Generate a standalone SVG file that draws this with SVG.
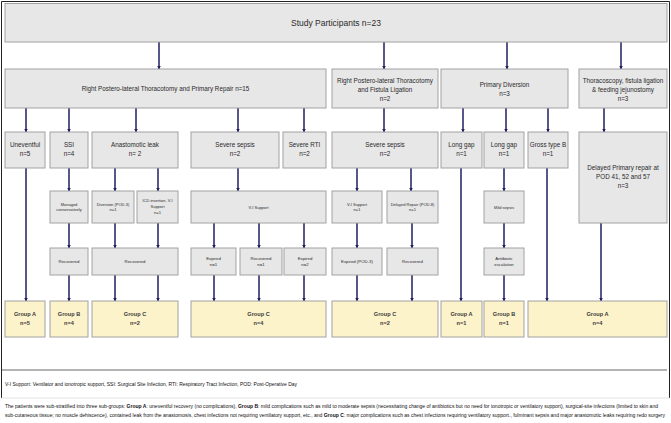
<svg xmlns="http://www.w3.org/2000/svg" width="671" height="423" viewBox="0 0 671 423">
<defs>
<marker id="ah" markerWidth="4" markerHeight="4" refX="3.5" refY="2" orient="auto" markerUnits="userSpaceOnUse">
<path d="M0,0 L4,2 L0,4 Z" fill="#1f1f62"/>
</marker>
<style>
.b{fill:#e7e7e7;stroke:#a2a2a2;stroke-width:1}
.g{fill:#fdf3cb;stroke:#a2a2a2;stroke-width:1}
.c line{stroke:#1f1f62;stroke-width:1.5;marker-end:url(#ah)}
text{font-family:"Liberation Sans",Arial,sans-serif;fill:#2a2a2a;text-anchor:middle}
.t1{font-size:8.5px}
.t2{font-size:6.3px}
.t4{font-size:4px}
.t5{font-size:4.3px}
.tg{font-size:5.6px;font-weight:bold;fill:#3a3a3a}
.fn{font-size:4.6px;text-anchor:start;fill:#111}
</style>
</defs>
<rect x="0" y="0" width="671" height="423" fill="#ffffff"/>
<path d="M1.5,398 V1.5 H669.5 V398" fill="none" stroke="#222" stroke-width="1"/>
<line x1="1.5" y1="398" x2="669.5" y2="398" stroke="#e2e2e2" stroke-width="1"/>
<line x1="2" y1="370" x2="667" y2="370" stroke="#9a9a9a" stroke-width="1.5"/>

<g class="c" id="connectors">
<line x1="159" y1="42" x2="159" y2="69"/>
<line x1="384" y1="42" x2="384" y2="69"/>
<line x1="507" y1="42" x2="507" y2="69"/>
<line x1="621" y1="42" x2="621" y2="69"/>

<line x1="26" y1="108" x2="26" y2="132"/>
<line x1="69" y1="108" x2="69" y2="132"/>
<line x1="136" y1="108" x2="136" y2="132"/>
<line x1="238" y1="108" x2="238" y2="132"/>
<line x1="304" y1="108" x2="304" y2="132"/>
<line x1="384" y1="108" x2="384" y2="132"/>
<line x1="463" y1="108" x2="463" y2="132"/>
<line x1="506" y1="108" x2="506" y2="132"/>
<line x1="548" y1="108" x2="548" y2="132"/>
<line x1="604" y1="108" x2="604" y2="132"/>

<line x1="26" y1="168" x2="26" y2="301"/>
<line x1="69" y1="168" x2="69" y2="191"/>
<line x1="115" y1="168" x2="115" y2="191"/>
<line x1="158" y1="168" x2="158" y2="191"/>
<line x1="238" y1="168" x2="238" y2="191"/>
<line x1="357" y1="168" x2="357" y2="191"/>
<line x1="411" y1="168" x2="411" y2="191"/>
<line x1="461" y1="168" x2="461" y2="301"/>
<line x1="504" y1="168" x2="504" y2="191"/>
<line x1="547" y1="168" x2="547" y2="301"/>
<line x1="601" y1="223" x2="601" y2="301"/>

<line x1="69" y1="223" x2="69" y2="248"/>
<line x1="115" y1="223" x2="115" y2="248"/>
<line x1="158" y1="223" x2="158" y2="248"/>
<line x1="214" y1="223" x2="214" y2="248"/>
<line x1="259" y1="223" x2="259" y2="248"/>
<line x1="304" y1="223" x2="304" y2="248"/>
<line x1="357" y1="223" x2="357" y2="248"/>
<line x1="412" y1="223" x2="412" y2="248"/>
<line x1="504" y1="223" x2="504" y2="248"/>

<line x1="69" y1="275" x2="69" y2="301"/>
<line x1="115" y1="275" x2="115" y2="301"/>
<line x1="158" y1="275" x2="158" y2="301"/>
<line x1="214" y1="275" x2="214" y2="301"/>
<line x1="259" y1="275" x2="259" y2="301"/>
<line x1="304" y1="275" x2="304" y2="301"/>
<line x1="357" y1="275" x2="357" y2="301"/>
<line x1="412" y1="275" x2="412" y2="301"/>
<line x1="504" y1="275" x2="504" y2="301"/>
</g>

<g id="participants"><rect class="b" x="5" y="3.5" width="662" height="38.5"/><text class="t1" x="336" y="26">Study Participants n=23</text></g>

<g id="primary-repair"><rect class="b" x="5" y="69" width="321" height="39"/><text class="t2" x="165.5" y="91">Right Postero-lateral Thoracotomy and Primary Repair n=15</text></g>
<g id="fistula-ligation"><rect class="b" x="332" y="69" width="106" height="39"/><text class="t2" x="385" y="83">Right Postero-lateral Thoracotomy</text><text class="t2" x="385" y="91.5">and Fistula Ligation</text><text class="t2" x="385" y="100.5">n=2</text></g>
<g id="primary-diversion"><rect class="b" x="441" y="69" width="127" height="39"/><text class="t2" x="504.5" y="87">Primary Diversion</text><text class="t2" x="504.5" y="96">n=3</text></g>
<g id="thoracoscopy"><rect class="b" x="579" y="69" width="88" height="39"/><text class="t2" x="623" y="83">Thoracoscopy, fistula ligation</text><text class="t2" x="623" y="91.5">&amp; feeding jejunostomy</text><text class="t2" x="623" y="100.5">n=3</text></g>

<g id="uneventful"><rect class="b" x="5" y="132" width="40" height="36"/><text class="t2" x="25" y="147">Uneventful</text><text class="t2" x="25" y="156">n=5</text></g>
<g id="ssi"><rect class="b" x="50" y="132" width="38" height="36"/><text class="t2" x="69" y="147">SSI</text><text class="t2" x="69" y="156">n=4</text></g>
<g id="anastomotic-leak"><rect class="b" x="92" y="132" width="86" height="36"/><text class="t2" x="135" y="147">Anastomotic leak</text><text class="t2" x="135" y="156">n= 2</text></g>
<g id="severe-sepsis-1"><rect class="b" x="191" y="132" width="88" height="36"/><text class="t2" x="235" y="147">Severe sepsis</text><text class="t2" x="235" y="156">n=2</text></g>
<g id="severe-rti"><rect class="b" x="283" y="132" width="43" height="36"/><text class="t2" x="304.5" y="147">Severe RTI</text><text class="t2" x="304.5" y="156">n=2</text></g>
<g id="severe-sepsis-2"><rect class="b" x="332" y="132" width="106" height="36"/><text class="t2" x="385" y="147">Severe sepsis</text><text class="t2" x="385" y="156">n=2</text></g>
<g id="long-gap-1"><rect class="b" x="441" y="132" width="41" height="36"/><text class="t2" x="461.5" y="147">Long gap</text><text class="t2" x="461.5" y="156">n=1</text></g>
<g id="long-gap-2"><rect class="b" x="484" y="132" width="40" height="36"/><text class="t2" x="504" y="147">Long gap</text><text class="t2" x="504" y="156">n=1</text></g>
<g id="gross-type-b"><rect class="b" x="528" y="132" width="40" height="36"/><text class="t2" x="548" y="147">Gross type B</text><text class="t2" x="548" y="156">n=1</text></g>
<g id="delayed-primary"><rect class="b" x="579" y="132" width="88" height="91"/><text class="t2" x="623" y="170">Delayed Primary repair at</text><text class="t2" x="623" y="178.5">POD 41, 52 and 57</text><text class="t2" x="623" y="187.5">n=3</text></g>

<g id="managed"><rect class="b" x="50" y="191" width="38" height="32"/><text class="t4" x="69" y="205.5">Managed</text><text class="t4" x="69" y="211">conservatively</text></g>
<g id="diversion"><rect class="b" x="92" y="191" width="42" height="32"/><text class="t4" x="113" y="205.5">Diversion (POD-3)</text><text class="t4" x="113" y="211">n=1</text></g>
<g id="icd"><rect class="b" x="137" y="191" width="41" height="32"/><text class="t4" x="157.5" y="202">ICD insertion, V-I</text><text class="t4" x="157.5" y="207.5">Support</text><text class="t4" x="157.5" y="213.5">n=1</text></g>
<g id="vi-support-1"><rect class="b" x="191" y="191" width="135" height="32"/><text class="t4" x="258.5" y="208.5">V-I Support</text></g>
<g id="vi-support-2"><rect class="b" x="332" y="191" width="50" height="32"/><text class="t4" x="357" y="205.5">V-I Support</text><text class="t4" x="357" y="211">n=1</text></g>
<g id="delayed-repair"><rect class="b" x="387" y="191" width="51" height="32"/><text class="t4" x="412.5" y="205.5">Delayed Repair (POD-8)</text><text class="t4" x="412.5" y="211">n=1</text></g>
<g id="mild-sepsis"><rect class="b" x="484" y="191" width="40" height="32"/><text class="t4" x="504" y="208.5">Mild sepsis</text></g>

<g id="recovered-1"><rect class="b" x="50" y="248" width="38" height="27"/><text class="t5" x="69" y="263">Recovered</text></g>
<g id="recovered-2"><rect class="b" x="92" y="248" width="86" height="27"/><text class="t5" x="135" y="263">Recovered</text></g>
<g id="expired-1"><rect class="b" x="191" y="248" width="45" height="27"/><text class="t5" x="213.5" y="260">Expired</text><text class="t5" x="213.5" y="266">n=1</text></g>
<g id="recovered-3"><rect class="b" x="240" y="248" width="42" height="27"/><text class="t5" x="261" y="260">Recovered</text><text class="t5" x="261" y="266">n=1</text></g>
<g id="expired-2"><rect class="b" x="284" y="248" width="42" height="27"/><text class="t5" x="305" y="260">Expired</text><text class="t5" x="305" y="266">n=2</text></g>
<g id="expired-pod3"><rect class="b" x="332" y="248" width="50" height="27"/><text class="t5" x="357" y="263">Expired (POD-3)</text></g>
<g id="recovered-4"><rect class="b" x="387" y="248" width="51" height="27"/><text class="t5" x="412.5" y="263">Recovered</text></g>
<g id="antibiotic"><rect class="b" x="484" y="248" width="40" height="27"/><text class="t5" x="504" y="260">Antibiotic</text><text class="t5" x="504" y="266">escalation</text></g>

<g id="group-a-1"><rect class="g" x="5" y="301" width="40" height="36"/><text class="tg" x="25" y="316">Group A</text><text class="tg" x="25" y="325">n=5</text></g>
<g id="group-b-1"><rect class="g" x="50" y="301" width="38" height="36"/><text class="tg" x="69" y="316">Group B</text><text class="tg" x="69" y="325">n=4</text></g>
<g id="group-c-1"><rect class="g" x="92" y="301" width="86" height="36"/><text class="tg" x="135" y="316">Group C</text><text class="tg" x="135" y="325">n=2</text></g>
<g id="group-c-2"><rect class="g" x="191" y="301" width="135" height="36"/><text class="tg" x="258.5" y="316">Group C</text><text class="tg" x="258.5" y="325">n=4</text></g>
<g id="group-c-3"><rect class="g" x="332" y="301" width="106" height="36"/><text class="tg" x="385" y="316">Group C</text><text class="tg" x="385" y="325">n=2</text></g>
<g id="group-a-2"><rect class="g" x="441" y="301" width="41" height="36"/><text class="tg" x="461.5" y="316">Group A</text><text class="tg" x="461.5" y="325">n=1</text></g>
<g id="group-b-2"><rect class="g" x="484" y="301" width="40" height="36"/><text class="tg" x="504" y="316">Group B</text><text class="tg" x="504" y="325">n=1</text></g>
<g id="group-a-3"><rect class="g" x="528" y="301" width="139" height="36"/><text class="tg" x="597.5" y="316">Group A</text><text class="tg" x="597.5" y="325">n=4</text></g>

<g id="footnotes">
<text class="fn" x="5" y="385.5" textLength="292" lengthAdjust="spacingAndGlyphs">V-I Support: Ventilator and ionotropic support, SSI: Surgical Site Infection, RTI: Respiratory Tract Infection, POD: Post-Operative Day</text>
<text class="fn" x="5" y="408" textLength="653" lengthAdjust="spacingAndGlyphs">The patients were sub-stratified into three sub-groups: <tspan font-weight="bold">Group A</tspan>: uneventful recovery (no complications), <tspan font-weight="bold">Group B</tspan>: mild complications such as mild to moderate sepsis (necessitating change of antibiotics but no need for ionotropic or ventilatory support), surgical-site infections (limited to skin and</text>
<text class="fn" x="5" y="416.5" textLength="660" lengthAdjust="spacingAndGlyphs">sub-cutaneous tissue; no muscle dehiscence), contained leak from the anastomosis, chest infections not requiring ventilatory support, etc., and <tspan font-weight="bold">Group C</tspan>: major complications such as chest infections requiring ventilatory support., fulminant sepsis and major anastomotic leaks requiring redo surgery</text>
</g>
</svg>
